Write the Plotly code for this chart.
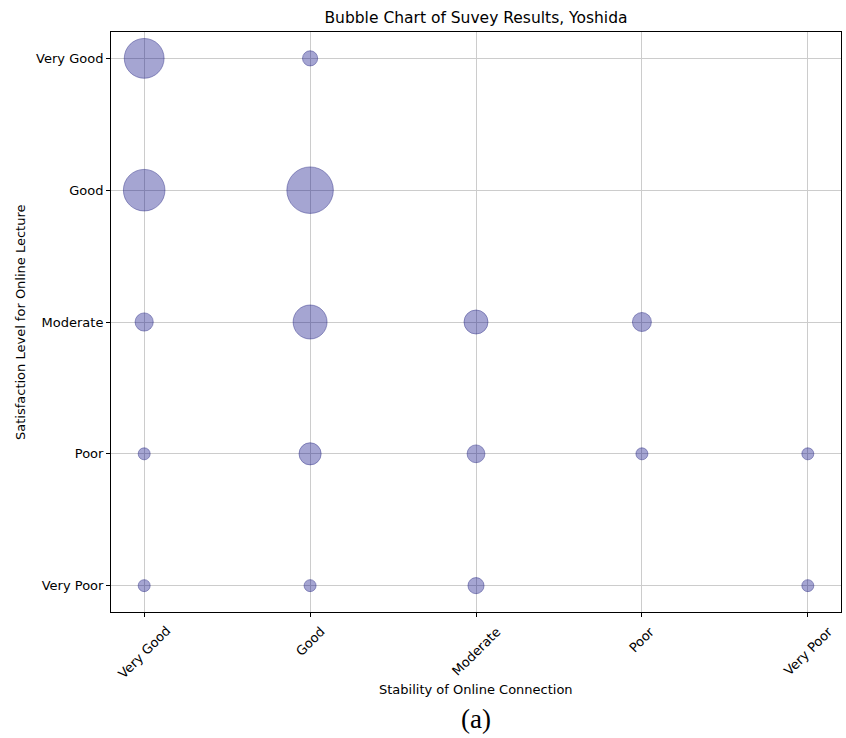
import plotly.graph_objects as go

# ── Data ────────────────────────────────────────────────────────────
levels = ["Very Poor", "Poor", "Moderate", "Good", "Very Good"]   # y order bottom→top
conn_levels = ["Very Good", "Good", "Moderate", "Poor", "Very Poor"]  # x order left→right

# one entry per bubble: stability (x), satisfaction (y), respondent count
stability = ["Very Good", "Good",
             "Very Good", "Good",
             "Very Good", "Good", "Moderate", "Poor",
             "Very Good", "Good", "Moderate", "Poor", "Very Poor",
             "Very Good", "Good", "Moderate", "Very Poor"]
satisfaction = ["Very Good", "Very Good",
                "Good", "Good",
                "Moderate", "Moderate", "Moderate", "Moderate",
                "Poor", "Poor", "Poor", "Poor", "Poor",
                "Very Poor", "Very Poor", "Very Poor", "Very Poor"]
counts = [11, 1.6,
          12, 15,
          2.3, 8, 4, 2.5,
          1, 3.4, 2.2, 1, 1,
          1, 1, 1.8, 1]

x_idx = [conn_levels.index(s) for s in stability]
y_idx = [levels.index(s) for s in satisfaction]

FONT = "DejaVu Sans, Arial, sans-serif"
GRID = "#cccccc"

# plot area in pixels (matches the matplotlib axes box)
L, R, T, B = 111, 841, 32, 612
W, H = 846, 738

fig = go.Figure()
fig.add_trace(go.Scatter(
    x=x_idx,
    y=y_idx,
    mode="markers",
    marker=dict(
        size=counts,
        sizemode="area",
        sizeref=1 / 72,
        color="rgba(0,0,128,0.5)",
        line=dict(color="rgba(0,0,110,0.55)", width=1),
    ),
    hovertemplate="%{customdata}<extra></extra>",
    customdata=counts,
    showlegend=False,
))

axis_common = dict(
    showline=True, mirror=True, linecolor="black", linewidth=1,
    showgrid=True, gridcolor=GRID, gridwidth=1,
    zeroline=False,
    ticks="outside", ticklen=4, tickcolor="black",
    tickfont=dict(family=FONT, size=13, color="black"),
    fixedrange=True,
)

fig.update_layout(
    width=W, height=H,
    paper_bgcolor="white", plot_bgcolor="white",
    margin=dict(l=L, r=W - R, t=T, b=H - B),
    font=dict(family=FONT, size=13, color="black"),
    title=dict(
        text="Bubble Chart of Suvey Results, Yoshida",
        x=(L + R) / 2 / W, xanchor="center",
        y=1 - 18 / H, yanchor="middle", yref="container",
        font=dict(family=FONT, size=15.5, color="black"),
    ),
    xaxis=dict(
        axis_common,
        range=[-0.2, 4.2],
        tickmode="array", tickvals=list(range(len(conn_levels))),
        showticklabels=False,
    ),
    yaxis=dict(
        axis_common,
        range=[-0.2, 4.2],
        tickmode="array", tickvals=list(range(len(levels))), ticktext=levels,
    ),
)

# rotated x tick labels, centred on each tick (matplotlib rotation=45 style)
for i, lab in enumerate(conn_levels):
    fig.add_annotation(
        x=i, xref="x", y=0, yref="paper",
        text=lab, textangle=-45, showarrow=False,
        xanchor="center", yanchor="top", yshift=-9,
        font=dict(family=FONT, size=13, color="black"),
    )

fig.add_annotation(
    x=(20 - L) / (R - L), xref="paper", y=0.5, yref="paper",
    text="Satisfaction Level for Online Lecture", textangle=-90, showarrow=False,
    xanchor="center", yanchor="middle",
    font=dict(family=FONT, size=13, color="black"),
)
fig.add_annotation(
    x=0.5, xref="paper", y=-(689 - B) / (B - T), yref="paper",
    text="Stability of Online Connection", showarrow=False,
    xanchor="center", yanchor="middle",
    font=dict(family=FONT, size=13, color="black"),
)
fig.add_annotation(
    x=0.5, xref="paper", y=-(719 - B) / (B - T), yref="paper",
    text="(a)", showarrow=False,
    xanchor="center", yanchor="middle",
    font=dict(family="Liberation Serif, Times New Roman, serif", size=27, color="black"),
)

fig.write_html(
    "out.html",
    config={"displayModeBar": False},
    post_script="document.body.style.margin='0';",
)
